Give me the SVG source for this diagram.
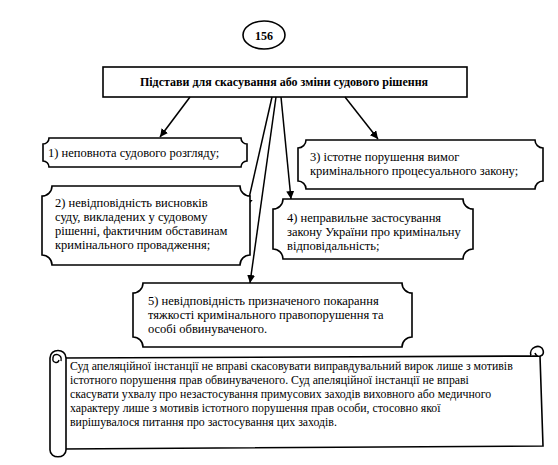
<svg xmlns="http://www.w3.org/2000/svg" width="558" height="465" viewBox="0 0 558 465">
<defs>
<style>
.shape{fill:#fff;stroke:#000;stroke-width:1.6}
.t{font-family:"Liberation Serif","DejaVu Serif","Times New Roman",serif;font-size:12.5px;fill:#000}
.ts{font-family:"Liberation Serif","DejaVu Serif","Times New Roman",serif;font-size:11.8px;fill:#000}
.tb{font-family:"Liberation Serif","DejaVu Serif","Times New Roman",serif;font-size:12px;font-weight:bold;fill:#000}
.conn{stroke:#000;stroke-width:1.5;fill:none;marker-end:url(#arr)}
</style>
<marker id="arr" viewBox="0 0 10 10" refX="10" refY="5" markerWidth="8" markerHeight="8" markerUnits="userSpaceOnUse" orient="auto">
<path d="M0,0 L10,5 L0,10 Z" fill="#000"/>
</marker>
</defs>
<rect width="558" height="465" fill="#fff"/>

<g id="num">
<ellipse class="shape" cx="264" cy="35" rx="21" ry="14"/>
<text class="tb" x="264" y="39.5" text-anchor="middle" font-size="13">156</text>
</g>

<g id="title">
<rect class="shape" x="103" y="67" width="364" height="30"/>
<text class="tb" x="284" y="86" text-anchor="middle">Підстави для скасування або зміни судового рішення</text>
</g>

<g id="connectors">
<line class="conn" x1="190" y1="97" x2="160" y2="137"/>
<line class="conn" x1="345" y1="97" x2="378" y2="139"/>
<line class="conn" x1="272" y1="97" x2="247" y2="207"/>
<line class="conn" x1="276" y1="97" x2="250" y2="283"/>
<line class="conn" x1="281" y1="97" x2="291" y2="199"/>
</g>

<g id="box1">
<path class="shape" d="M49,138 H241 A6,6 0 0 0 247,144 V161 A6,6 0 0 0 241,167 H49 A6,6 0 0 0 43,161 V144 A6,6 0 0 0 49,138 Z"/>
<text class="t" x="48" y="157">1) неповнота судового розгляду;</text>
</g>

<g id="box3">
<path class="shape" d="M306,140 H535 A8,8 0 0 0 543,148 V181 A8,8 0 0 0 535,189 H306 A8,8 0 0 0 298,181 V148 A8,8 0 0 0 306,140 Z"/>
<text class="t" x="310" y="161">3) істотне порушення вимог</text>
<text class="t" x="310" y="175">кримінального процесуального закону;</text>
</g>

<g id="box2">
<path class="shape" d="M52,186 H240 A10,10 0 0 0 250,196 V255 A10,10 0 0 0 240,265 H52 A10,10 0 0 0 42,255 V196 A10,10 0 0 0 52,186 Z"/>
<text class="t" x="55" y="207">2) невідповідність висновків</text>
<text class="t" x="55" y="221">суду, викладених у судовому</text>
<text class="t" x="55" y="235">рішенні, фактичним обставинам</text>
<text class="t" x="55" y="249">кримінального провадження;</text>
</g>

<g id="box4">
<path class="shape" d="M283,199 H463 A10,10 0 0 0 473,209 V249 A10,10 0 0 0 463,259 H283 A10,10 0 0 0 273,249 V209 A10,10 0 0 0 283,199 Z"/>
<text class="t" x="287" y="222">4) неправильне застосування</text>
<text class="t" x="287" y="236">закону України про кримінальну</text>
<text class="t" x="287" y="250">відповідальність;</text>
</g>

<g id="box5">
<path class="shape" d="M143,283 H402 A10,10 0 0 0 412,293 V337 A10,10 0 0 0 402,347 H143 A10,10 0 0 0 133,337 V293 A10,10 0 0 0 143,283 Z"/>
<text class="t" x="148" y="305">5) невідповідність призначеного покарання</text>
<text class="t" x="148" y="319">тяжкості кримінального правопорушення та</text>
<text class="t" x="148" y="333">особі обвинуваченого.</text>
</g>

<g id="note">
<path class="shape" d="M62,358 L540,356 L543,446 L62,449 Z"/>
<path class="shape" d="M531,356 C528,347 541,343 543,350 C545,356 537,359 535,353"/>
<path class="shape" d="M50,358 C50,348 66,348 66,358 V450 C66,459 50,459 50,450 Z"/>
<path fill="none" stroke="#000" stroke-width="1.4" d="M61,361 C63,354 53,352 53,358 C52,363 58,364 59,360"/>
<text class="ts" x="70" y="370">Суд апеляційної інстанції не вправі скасовувати виправдувальний вирок лише з мотивів</text>
<text class="ts" x="70" y="384">істотного порушення прав обвинуваченого. Суд апеляційної інстанції не вправі</text>
<text class="ts" x="70" y="398">скасувати ухвалу про незастосування примусових заходів виховного або медичного</text>
<text class="ts" x="70" y="412">характеру лише з мотивів істотного порушення прав особи, стосовно якої</text>
<text class="ts" x="70" y="426">вирішувалося питання про застосування цих заходів.</text>
</g>
</svg>
